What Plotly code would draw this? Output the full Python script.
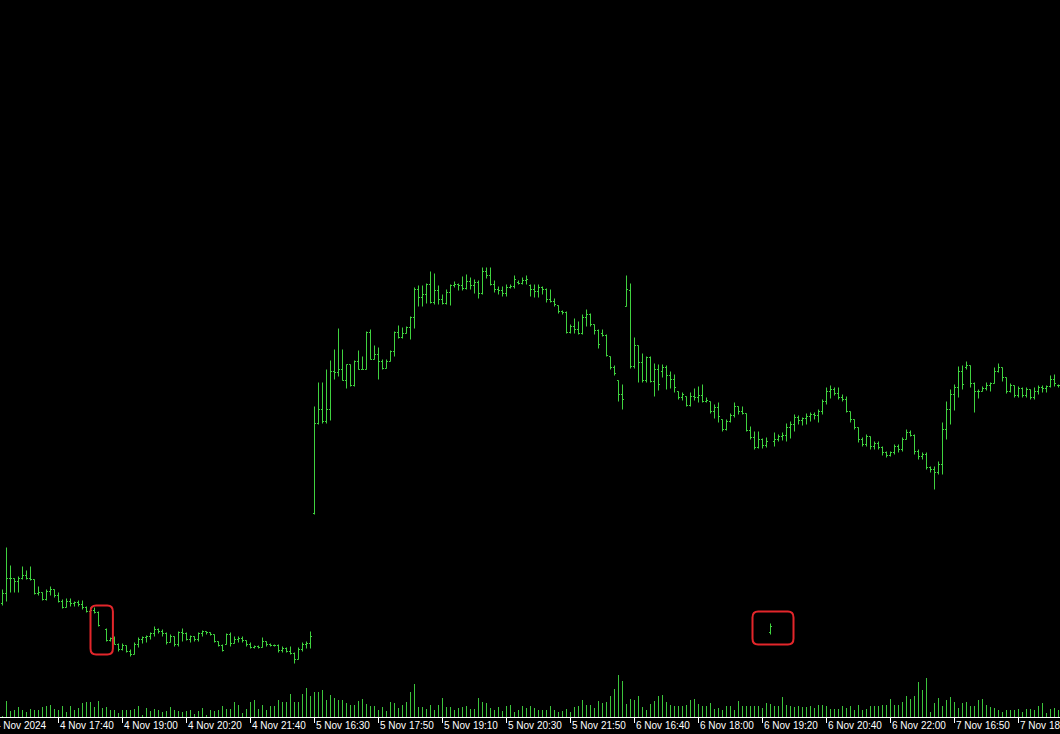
import plotly.graph_objects as go

# ---------------- data (M5 bars, 4-7 Nov 2024) ----------------
open_ = [
    39.6,40.6,42.1,42.1,41.8,42.1,42.4,42.1,42.0,40.6,
    40.7,40.0,40.8,41.0,40.4,39.8,39.2,39.8,39.6,39.7,
    39.5,39.2,38.8,38.9,38.7,None,37.0,35.9,36.1,35.5,
    35.0,35.4,34.8,34.5,35.5,36.0,36.2,36.3,36.6,37.0,
    36.8,36.6,35.7,36.3,35.5,36.7,36.6,36.0,36.3,36.0,
    36.6,36.8,36.7,36.5,35.8,35.4,35.5,36.5,35.6,36.0,
    36.1,35.9,35.5,35.2,35.3,35.2,35.8,35.5,35.4,35.4,
    34.9,35.1,34.8,34.6,34.0,35.0,35.5,35.6,
    48.6,57.6,59.0,57.8,59.0,62.8,62.7,63.0,61.9,63.5,
    61.4,63.8,63.0,63.0,66.7,64.0,64.5,63.8,63.1,63.8,
    64.8,66.7,66.2,66.6,67.2,68.2,71.0,70.2,70.5,71.5,
    69.7,70.9,70.0,69.6,70.7,71.4,71.5,71.4,71.1,71.8,
    71.4,71.7,70.6,72.8,72.4,71.5,71.0,70.9,70.6,71.2,
    71.3,71.7,71.6,71.9,71.4,71.0,70.8,71.2,71.0,70.0,
    69.8,69.4,68.8,68.7,66.7,67.3,67.0,66.6,68.2,68.5,
    67.5,66.9,66.6,66.4,64.3,63.2,61.9,60.5,
    69.3,70.9,63.3,65.4,63.7,61.9,64.2,61.8,63.0,62.8,
    63.2,62.4,62.0,60.8,60.2,60.3,59.4,60.3,60.2,60.4,
    59.8,59.8,58.8,59.2,58.0,57.0,57.8,58.4,59.3,58.8,
    58.6,56.9,56.2,55.2,56.0,55.4,36.7,55.8,56.0,56.3,
    56.4,57.2,57.5,58.2,57.9,58.1,58.3,58.5,58.4,58.8,
    59.8,60.8,61.0,60.6,60.2,60.0,58.8,58.0,57.2,56.0,
    55.5,56.3,55.3,55.6,55.2,54.7,54.4,54.7,55.3,55.0,
    56.0,56.7,56.4,54.8,54.3,54.5,53.2,53.0,
    52.7,53.5,57.0,59.0,60.5,61.2,62.8,63.2,63.4,61.6,
    60.8,60.8,61.1,61.4,61.6,62.8,63.2,62.2,60.8,61.4,
    60.4,61.1,60.4,61.0,60.2,60.8,61.2,61.1,61.3,62.0,61.4,
]
high = [
    41.0,45.2,43.4,42.1,42.3,43.3,42.9,43.3,42.0,41.3,
    40.7,41.0,41.3,41.0,40.7,40.0,40.1,40.1,39.8,39.9,
    39.9,39.3,39.2,39.2,38.8,None,37.1,36.2,36.3,35.6,
    35.6,35.4,35.0,35.7,36.2,36.3,36.4,36.7,37.3,37.1,
    37.0,36.7,36.5,36.3,36.8,37.1,36.7,36.4,36.3,36.7,
    36.9,36.8,36.7,36.5,35.8,35.5,36.6,36.7,36.3,36.3,
    36.3,35.9,35.7,35.4,35.4,36.2,35.8,35.6,35.5,35.5,
    35.3,35.2,35.3,34.7,35.2,35.7,35.8,36.8,
    59.3,61.7,61.7,63.0,63.9,65.0,67.1,65.0,63.5,63.5,
    63.9,64.9,64.3,66.8,67.0,65.4,65.2,64.0,64.0,64.9,
    66.8,67.4,67.2,67.3,68.3,71.2,71.4,71.4,71.6,72.8,
    72.6,71.4,70.5,71.0,71.5,71.8,71.6,72.3,72.5,72.2,
    72.0,71.9,73.2,73.2,73.2,71.9,71.3,71.3,71.5,71.5,
    72.4,71.9,72.2,72.4,71.5,71.5,71.5,71.3,71.1,71.0,
    70.1,69.4,68.9,68.8,67.5,68.1,67.8,68.5,69.0,68.6,
    67.5,67.0,67.0,66.5,64.3,63.4,61.9,61.5,
    72.4,71.6,66.2,65.4,64.6,64.3,64.3,63.6,63.5,63.5,
    63.4,62.8,62.5,60.8,60.7,60.3,60.7,61.1,61.3,61.5,
    60.2,59.8,59.5,59.7,58.0,58.0,58.6,59.7,59.3,59.3,
    58.6,57.3,56.8,56.8,56.1,56.2,37.6,56.7,56.5,56.7,
    57.6,57.8,58.5,58.4,58.2,58.6,58.7,58.7,59.0,60.0,
    61.2,61.4,61.2,61.2,60.5,60.3,58.8,58.0,57.2,56.2,
    56.5,56.3,55.8,55.8,55.3,54.8,54.8,55.5,55.5,56.2,
    57.0,56.9,56.5,55.0,54.7,54.7,53.3,53.3,
    53.8,57.7,59.8,61.0,61.5,63.3,63.4,63.8,63.4,61.7,
    61.0,61.3,61.7,61.7,63.2,63.6,63.2,62.2,61.6,61.4,
    61.3,61.2,61.2,61.0,61.2,61.4,61.4,61.4,62.4,62.5,61.5,
]
low = [
    39.4,39.8,40.7,40.7,40.7,42.0,42.0,41.9,40.5,40.4,
    39.9,39.9,40.4,40.2,39.7,39.1,39.2,39.3,39.3,39.3,
    39.0,38.7,38.5,38.6,37.3,None,35.8,35.8,35.5,34.8,
    34.9,34.7,34.3,34.5,35.2,35.6,35.7,36.0,36.3,36.6,
    36.3,35.5,35.7,35.3,35.3,35.8,35.9,35.7,35.8,35.8,
    36.3,36.5,36.4,35.7,35.3,34.8,35.5,35.3,35.6,35.7,
    35.7,35.3,35.1,35.1,35.1,35.2,35.3,35.3,35.3,34.7,
    34.7,34.7,34.5,33.6,34.0,34.8,35.1,35.1,
    48.5,57.5,57.6,57.6,57.9,62.0,62.3,61.9,61.1,61.3,
    61.3,63.0,63.0,63.0,64.0,64.0,62.0,63.0,63.1,63.8,
    64.3,66.1,66.1,66.6,66.0,67.1,69.3,69.3,69.6,69.6,
    69.5,69.5,69.5,69.5,69.4,71.2,70.9,70.9,71.0,71.0,
    70.6,70.1,70.5,72.1,71.4,70.7,70.5,70.3,70.3,71.1,
    71.1,71.5,71.5,71.5,70.3,70.2,70.2,70.5,69.7,69.7,
    69.3,68.6,68.5,66.6,66.6,66.6,66.5,66.5,67.3,67.3,
    66.5,65.1,66.3,64.3,63.0,62.4,59.8,59.0,
    69.3,63.1,63.1,61.7,61.7,61.7,61.7,60.3,60.9,62.2,
    61.0,61.1,60.7,60.0,59.9,59.3,59.3,59.9,59.7,59.7,
    59.7,58.6,58.1,57.7,56.8,56.9,57.7,58.2,58.5,58.5,
    56.8,56.0,55.0,55.1,55.1,55.2,36.5,55.3,55.8,55.9,
    55.8,56.1,56.8,57.5,57.4,57.5,57.8,58.0,57.7,58.5,
    59.5,60.1,60.4,60.0,59.8,58.7,57.7,57.0,55.7,55.3,
    55.3,55.0,55.0,55.0,54.4,54.2,54.3,54.5,54.7,54.8,
    56.0,56.3,54.5,54.0,54.0,53.0,52.7,51.0,
    52.5,52.5,56.0,57.5,58.9,60.2,61.0,63.0,61.2,58.7,
    60.1,60.8,60.9,60.8,61.6,62.7,61.8,60.6,60.7,60.2,
    60.2,60.2,60.2,60.0,60.0,60.5,60.7,60.7,61.2,61.3,61.2,
]
close = [
    40.6,42.1,42.1,41.8,42.1,42.4,42.1,42.0,40.6,40.7,
    40.0,40.8,41.0,40.4,39.8,39.2,39.8,39.6,39.7,39.5,
    39.2,38.8,38.9,38.7,37.4,None,35.9,36.1,35.5,35.0,
    35.4,34.8,34.5,35.5,36.0,36.2,36.3,36.6,37.0,36.8,
    36.6,35.7,36.3,35.5,36.7,36.6,36.0,36.3,36.0,36.6,
    36.8,36.7,36.5,35.8,35.4,34.9,36.5,35.6,36.0,36.1,
    35.9,35.5,35.2,35.3,35.2,35.8,35.5,35.4,35.4,34.9,
    35.1,34.8,34.6,34.0,35.0,35.5,35.6,36.3,
    57.6,59.0,57.8,59.0,62.8,62.7,63.0,61.9,63.5,61.4,
    63.8,63.0,63.0,66.7,64.0,64.5,63.8,63.1,63.8,64.8,
    66.7,66.2,66.6,67.2,68.2,71.0,70.2,70.5,71.5,69.7,
    70.9,70.0,69.6,70.7,71.4,71.5,71.4,71.1,71.8,71.4,
    71.7,70.6,72.8,72.4,71.5,71.0,70.9,70.6,71.2,71.3,
    72.0,71.6,71.9,72.0,71.0,70.8,71.2,71.0,70.0,69.8,
    69.5,68.8,68.7,66.7,67.3,67.0,66.6,68.2,68.5,67.5,
    66.9,65.5,66.4,64.4,63.2,62.6,60.5,60.0,
    71.0,63.3,65.4,63.7,61.9,64.2,61.8,63.0,61.5,63.2,
    62.4,62.0,61.2,60.2,60.5,59.4,60.3,60.2,60.4,59.8,
    59.9,58.8,59.2,58.3,57.0,57.8,58.4,59.3,58.8,58.6,
    56.9,56.2,55.2,56.0,55.4,55.8,37.3,56.0,56.3,56.4,
    57.2,57.5,58.2,57.9,58.1,58.3,58.5,58.4,58.8,59.8,
    60.8,61.0,60.6,60.2,60.0,58.8,58.0,57.2,56.0,55.5,
    56.3,55.3,55.6,55.2,54.7,54.4,54.7,55.3,55.0,56.0,
    56.7,56.4,54.8,54.3,54.5,53.2,53.0,52.7,
    53.5,57.0,59.0,60.5,61.2,62.8,61.5,63.4,61.6,60.8,
    60.8,61.1,61.4,61.6,62.8,63.2,62.2,60.8,61.4,60.4,
    61.1,60.4,61.0,60.2,60.8,61.2,61.1,61.3,62.0,61.6,61.4,
]
volume = [
    7,163,57,67,100,73,53,80,73,73,
    100,113,123,83,73,107,47,113,73,90,
    140,153,153,100,163,90,100,73,73,40,
    67,67,73,80,113,23,90,57,80,73,
    47,57,100,67,57,53,57,73,33,57,
    90,23,67,57,73,107,80,80,147,123,
    40,80,153,173,80,123,73,107,107,173,
    147,147,233,147,153,233,290,207,253,253,
    273,167,220,190,167,167,140,123,123,157,
    180,133,113,113,73,100,57,153,140,90,
    120,147,253,333,100,100,80,123,67,123,
    190,100,100,67,90,100,107,80,80,190,
    147,140,90,73,100,57,113,123,47,73,
    107,90,
    107,90,73,73,73,113,67,47,57,80,
    47,100,107,167,123,123,90,157,140,147,
    207,280,423,363,133,183,173,207,100,73,
    133,157,213,223,147,123,113,107,113,123,
    173,183,133,113,107,140,80,90,73,113,
    107,67,163,113,113,113,113,107,90,140,
    133,113,107,200,123,113,100,107,100,100,
    107,90,117,123,113,80,80,80,107,90,
    113,67,123,73,80,107,113,113,123,123,
    183,123,123,147,207,180,213,350,273,390,
    47,140,190,113,167,200,147,90,140,147,
    113,107,167,180,123,100,90,73,47,73,
    73,73,80,47,80,80,73,107,140,40,
    80,90,73,
]
tick_pos = [14, 30, 46, 62, 78, 94, 110, 126, 142, 158, 174, 190, 206, 222, 238, 254]
tick_labels = ["4 Nov 17:40", "4 Nov 19:00", "4 Nov 20:20", "4 Nov 21:40",
               "5 Nov 16:30", "5 Nov 17:50", "5 Nov 19:10", "5 Nov 20:30",
               "5 Nov 21:50", "6 Nov 16:40", "6 Nov 18:00", "6 Nov 19:20",
               "6 Nov 20:40", "6 Nov 22:00", "7 Nov 16:50", "7 Nov 18:10"]
first_label = "4 Nov 2024"
# highlighted regions: (bar from, bar to, price top, price bottom)
highlights = [(22.0, 27.6, 39.4, 34.5), (187.5, 197.75, 38.8, 35.5)]

x = list(range(len(close)))
GREEN = "#3fd23f"
FONT = "Tahoma, 'Liberation Sans', Arial, sans-serif"
LABEL_FONT = dict(family=FONT, size=10, color="#ffffff")

fig = go.Figure()
fig.add_trace(go.Bar(x=x, y=volume, yaxis="y2", width=0.2,
                     marker=dict(color="#3cc43c", line=dict(width=0)),
                     hoverinfo="skip"))
fig.add_trace(go.Ohlc(x=x, open=open_, high=high, low=low, close=close,
                      tickwidth=0.375,
                      increasing=dict(line=dict(color=GREEN, width=1)),
                      decreasing=dict(line=dict(color=GREEN, width=1))))


def rounded_box(x0, x1, y0, y1, rx, ry):
    ya, yb = min(y0, y1), max(y0, y1)
    return (f"M {x0+rx},{yb} L {x1-rx},{yb} Q {x1},{yb} {x1},{yb-ry} "
            f"L {x1},{ya+ry} Q {x1},{ya} {x1-rx},{ya} L {x0+rx},{ya} "
            f"Q {x0},{ya} {x0},{ya+ry} L {x0},{yb-ry} Q {x0},{yb} {x0+rx},{yb} Z")


shapes = [dict(type="path", xref="x", yref="y",
               path=rounded_box(a, b, c, d, 1.4, 0.6),
               line=dict(color="#e3262b", width=2), fillcolor="rgba(0,0,0,0)")
          for a, b, c, d in highlights]

annotations = [dict(x=p, y=0, xref="x", yref="paper", xanchor="left",
                    yanchor="middle", yshift=-8, xshift=-1, text=t,
                    showarrow=False, font=LABEL_FONT)
               for p, t in zip(tick_pos, tick_labels)]
# first (date) label starts just left of the first bar and is cut by the edge
annotations.append(dict(x=x[0], y=0, xref="x", yref="paper", xanchor="left",
                        yanchor="middle", yshift=-8, xshift=-10, text=first_label,
                        showarrow=False, font=LABEL_FONT))

n = len(close)
fig.update_layout(
    width=1060, height=734,
    margin=dict(l=0, r=0, t=0, b=17),
    paper_bgcolor="#000000", plot_bgcolor="#000000",
    showlegend=False, bargap=0,
    shapes=shapes, annotations=annotations,
    xaxis=dict(range=[-0.625, n - 0.625], rangeslider=dict(visible=False),
               showgrid=False, zeroline=False, showline=True, linecolor="#ffffff",
               linewidth=1, ticks="outside", ticklen=5, tickcolor="#ffffff",
               tickvals=tick_pos, showticklabels=False),
    yaxis=dict(range=[28.25, 99.95], visible=False, showgrid=False, zeroline=False),
    yaxis2=dict(range=[0, 7170], overlaying="y", visible=False, showgrid=False),
)

fig.write_html("out.html",
               config={"displayModeBar": False},
               post_script="document.body.style.margin='0';"
                           "document.body.style.padding='0';"
                           "document.body.style.overflow='hidden';"
                           "document.body.style.background='#000';")
